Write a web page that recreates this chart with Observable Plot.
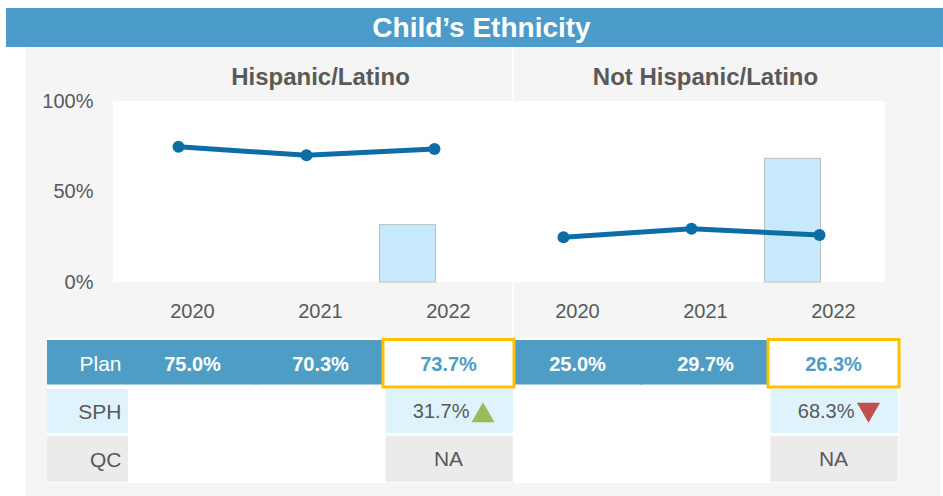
<!DOCTYPE html>
<html>
<head>
<meta charset="utf-8">
<script src="https://cdn.jsdelivr.net/npm/d3@7"></script>
<script src="https://cdn.jsdelivr.net/npm/@observablehq/plot@0.6"></script>
<style>
  body { margin:0; width:943px; height:496px; position:relative; background:#fff; overflow:hidden;
         font-family:"Liberation Sans", Arial, sans-serif; }
  .abs { position:absolute; }
</style>
</head>
<body>
<div class="abs" style="left:26px;top:47px;width:914px;height:449px;background:#f5f5f5"></div>
<div class="abs" style="left:512px;top:47px;width:2px;height:291px;background:#fdfdfd"></div>
<div class="abs" style="left:113px;top:101px;width:772px;height:181px;background:#fff"></div>
<div class="abs" style="left:47px;top:338px;width:852px;height:145px;background:#fff"></div>
<div class="abs" id="title" style="left:6px;top:8px;width:937px;height:39px;background:#4b9cca;color:#fff;font-weight:bold;font-size:28px;line-height:40px;text-align:center;text-indent:14px">Child’s Ethnicity</div>
<div class="abs" id="chart" style="left:0;top:47px"></div>
<div class="abs" id="table" style="left:0;top:336px"></div>
<script>
// ---- data ----
const groups = ["Hispanic/Latino", "Not Hispanic/Latino"];
const years = ["2020", "2021", "2022"];
const planHispanic = [75.0, 70.3, 73.7];
const planNotHispanic = [25.0, 29.7, 26.3];
const sphValues = [31.7, 68.3];          // 2022 only
const sphTrend = ["up", "down"];
const qcValues = ["NA", "NA"];           // 2022 only
const rowLabels = ["Plan", "SPH", "QC"];
const yTicks = [0, 50, 100];

const planSeries = [planHispanic, planNotHispanic];
const planData = groups.flatMap((g, i) => years.map((yr, j) => ({group: g, year: yr, value: planSeries[i][j]})));
const sphData = groups.map((g, i) => ({group: g, year: years[2], row: "SPH", value: sphValues[i], trend: sphTrend[i]}));
const qcData = groups.map((g, i) => ({group: g, year: years[2], row: "QC", text: qcValues[i]}));
const planRow = planData.map(d => ({...d, row: "Plan"}));
const labelRows = rowLabels.map(r => ({group: groups[0], year: years[0], row: r}));

const FONT = '"Liberation Sans", Arial, sans-serif';
const GREY = "#595959";
const LINE = "#0b6ea6";
const PLANBLUE = "#4f9dc5";

const common = {
  width: 943,
  marginLeft: 128,
  marginRight: 46,
  style: {background: "transparent", fontFamily: FONT, color: GREY, overflow: "visible"}
};

// ---- chart ----
const chart = Plot.plot({
  ...common,
  height: 291,
  marginTop: 54,
  marginBottom: 56,
  fx: {domain: groups, paddingInner: 0.003, paddingOuter: 0, label: null},
  x: {domain: years, padding: 0, label: null},
  y: {domain: [0, 100], label: null},
  marks: [
    Plot.axisFx({anchor: "top", label: null, tickSize: 0, tickPadding: 17, fontSize: 24, fontWeight: "bold"}),
    Plot.axisY({ticks: yTicks, tickFormat: d => d + "%", tickSize: 0, tickPadding: 35, fontSize: 20, label: null}),
    Plot.axisX({tickSize: 0, tickPadding: 21, fontSize: 20, label: null}),
    Plot.barY(sphData, {fx: "group", x: "year", y: "value", fill: "#c6e9fb", stroke: "#bfbfbf", strokeWidth: 1,
      insetLeft: 36, insetRight: 36, dx: -40.5}),
    Plot.line(planData, {fx: "group", x: "year", y: "value", stroke: LINE, strokeWidth: 5, dx: -14}),
    Plot.dot(planData, {fx: "group", x: "year", y: "value", fill: LINE, r: 6, dx: -14})
  ]
});
document.getElementById("chart").appendChild(chart);

// ---- table ----
const labelFill = {Plan: PLANBLUE, SPH: "#dff3fc", QC: "#ebebeb"};
const labelText = {Plan: "#ffffff", SPH: GREY, QC: GREY};
const table = Plot.plot({
  ...common,
  height: 150,
  marginTop: 1,
  marginBottom: 3.5,
  fx: {domain: groups, paddingInner: 0.003, paddingOuter: 0, label: null, axis: null},
  x: {domain: years, padding: 0, label: null, axis: null},
  y: {domain: rowLabels, padding: 0, label: null, axis: null},
  marks: [
    // row label column
    Plot.cell(labelRows.filter(d => d.row === "Plan"), {fx: "group", x: "year", y: "row", fill: d => labelFill[d.row],
      dx: -128, insetLeft: 47, insetTop: 2, insetBottom: 1.5}),
    Plot.cell(labelRows.filter(d => d.row === "SPH"), {fx: "group", x: "year", y: "row", fill: d => labelFill[d.row],
      dx: -128, insetLeft: 47, insetTop: 3, insetBottom: 1}),
    Plot.cell(labelRows.filter(d => d.row === "QC"), {fx: "group", x: "year", y: "row", fill: d => labelFill[d.row],
      dx: -128, insetLeft: 47, insetTop: 2, insetBottom: 0}),
    Plot.text(labelRows, {fx: "group", y: "row", text: "row", frameAnchor: "left", textAnchor: "end",
      dx: -7, dy: 2, fontSize: 21, fill: d => labelText[d.row]}),
    // plan row
    Plot.cell(planRow.filter(d => d.year !== years[2]), {fx: "group", x: "year", y: "row", fill: PLANBLUE,
      insetTop: 2, insetBottom: 1.5, insetLeft: -1, insetRight: -1}),
    Plot.cell(planRow.filter(d => d.year === years[2]), {fx: "group", x: "year", y: "row", fill: "#ffffff",
      stroke: "#ffc000", strokeWidth: 3, insetTop: 1.5, insetBottom: -1, insetLeft: -1, insetRight: -2}),
    Plot.text(planRow, {fx: "group", x: "year", y: "row", text: d => d.value.toFixed(1) + "%",
      fill: d => d.year === years[2] ? PLANBLUE : "#ffffff", fontWeight: "bold", fontSize: 20, dy: 2.5}),
    // SPH row
    Plot.cell(sphData, {fx: "group", x: "year", y: "row", fill: "#dff3fc",
      insetTop: 3, insetBottom: 1, insetLeft: 1.5, insetRight: -1}),
    Plot.text(sphData, {fx: "group", x: "year", y: "row", text: d => d.value.toFixed(1) + "%",
      textAnchor: "end", dx: 21, dy: 1, fontSize: 20, fill: GREY}),
    Plot.dot(sphData.filter(d => d.trend === "up"), {fx: "group", x: "year", y: "row", symbol: "triangle2",
      r: 11, fill: "#9bbb59", dx: 34.5, dy: 5}),
    Plot.dot(sphData.filter(d => d.trend === "down"), {fx: "group", x: "year", y: "row", symbol: "triangle2",
      r: 11, fill: "#c0504d", rotate: 180, dx: 35, dy: -1}),
    // QC row
    Plot.cell(qcData, {fx: "group", x: "year", y: "row", fill: "#ebebeb",
      insetTop: 2, insetBottom: 0, insetLeft: 1.5, insetRight: -1}),
    Plot.text(qcData, {fx: "group", x: "year", y: "row", text: "text", fontSize: 21, fill: GREY, dy: 1})
  ]
});
document.getElementById("table").appendChild(table);
</script>
</body>
</html>
